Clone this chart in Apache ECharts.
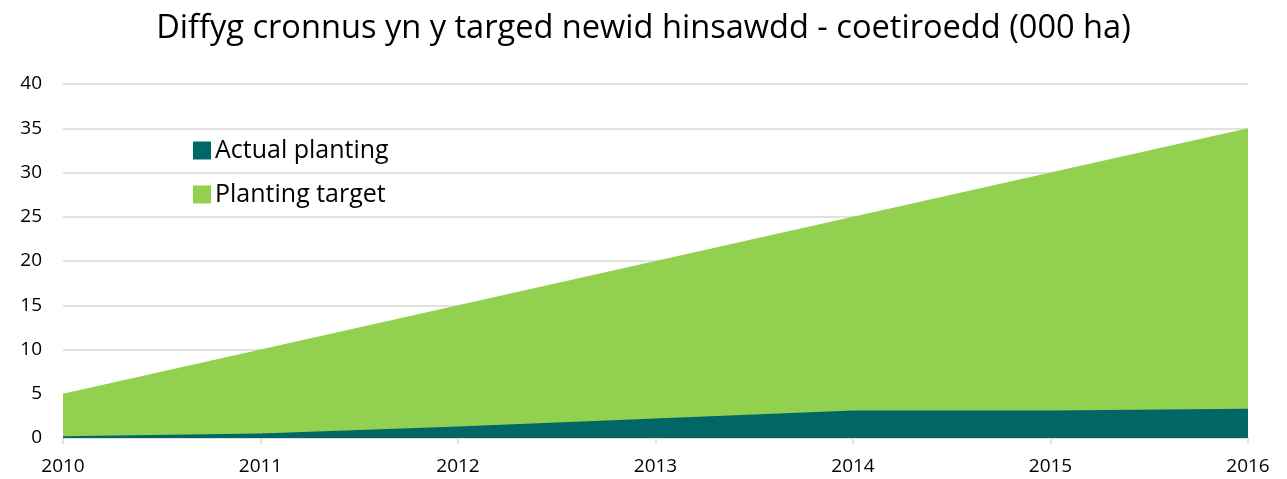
<!DOCTYPE html>
<html>
<head>
<meta charset="utf-8">
<script src="https://cdn.jsdelivr.net/npm/echarts@6/dist/echarts.min.js"></script>
<style>
  html, body { margin: 0; padding: 0; background: #fff; }
  #chart { width: 1287px; height: 479px; }
</style>
</head>
<body>
<div id="chart"></div>
<script>
// data
const years = ['2010', '2011', '2012', '2013', '2014', '2015', '2016']
const actualPlanting = [0.2, 0.5, 1.3, 2.2, 3.1, 3.1, 3.3]
const plantingTarget = [5, 10, 15, 20, 25, 30, 35]

const font = 'Open Sans'

const chart = echarts.init(document.getElementById('chart'))
chart.setOption({
  animation: false,
  title: {
    text: 'Diffyg cronnus yn y targed newid hinsawdd - coetiroedd (000 ha)',
    left: 'center',
    top: 7,
    textStyle: {
      color: '#000',
      fontFamily: font,
      fontWeight: 'normal',
      fontSize: 32.6
    }
  },
  legend: {
    orient: 'vertical',
    left: 188,
    top: 133,
    itemGap: 19,
    itemWidth: 18,
    itemHeight: 18,
    icon: 'rect',
    data: ['Actual planting', 'Planting target'],
    textStyle: { color: '#000', fontFamily: font, fontSize: 25, padding: [0, 0, 0, -1] }
  },
  grid: {
    left: 63,
    right: 39,
    top: 84,
    bottom: 41
  },
  xAxis: {
    type: 'category',
    data: years,
    boundaryGap: false,
    axisLine: { lineStyle: { color: '#d9d9d9', width: 1.5 } },
    axisTick: { show: true, length: 6, lineStyle: { color: '#d9d9d9', width: 1.5 } },
    axisLabel: { color: '#000', fontFamily: font, fontSize: 19, margin: 19 }
  },
  yAxis: {
    type: 'value',
    min: 0,
    max: 40,
    interval: 5,
    axisLine: { show: false },
    axisTick: { show: false },
    splitLine: { lineStyle: { color: '#d9d9d9', width: 1.5 } },
    axisLabel: { color: '#000', fontFamily: font, fontSize: 19, margin: 21 }
  },
  series: [
    {
      name: 'Planting target',
      type: 'line',
      data: plantingTarget,
      symbol: 'none',
      z: 2,
      lineStyle: { width: 0 },
      itemStyle: { color: '#92d050' },
      areaStyle: { color: '#92d050', opacity: 1 }
    },
    {
      name: 'Actual planting',
      type: 'line',
      data: actualPlanting,
      symbol: 'none',
      z: 3,
      lineStyle: { width: 0 },
      itemStyle: { color: '#006666' },
      areaStyle: { color: '#006666', opacity: 1 }
    }
  ]
})
</script>
</body>
</html>
